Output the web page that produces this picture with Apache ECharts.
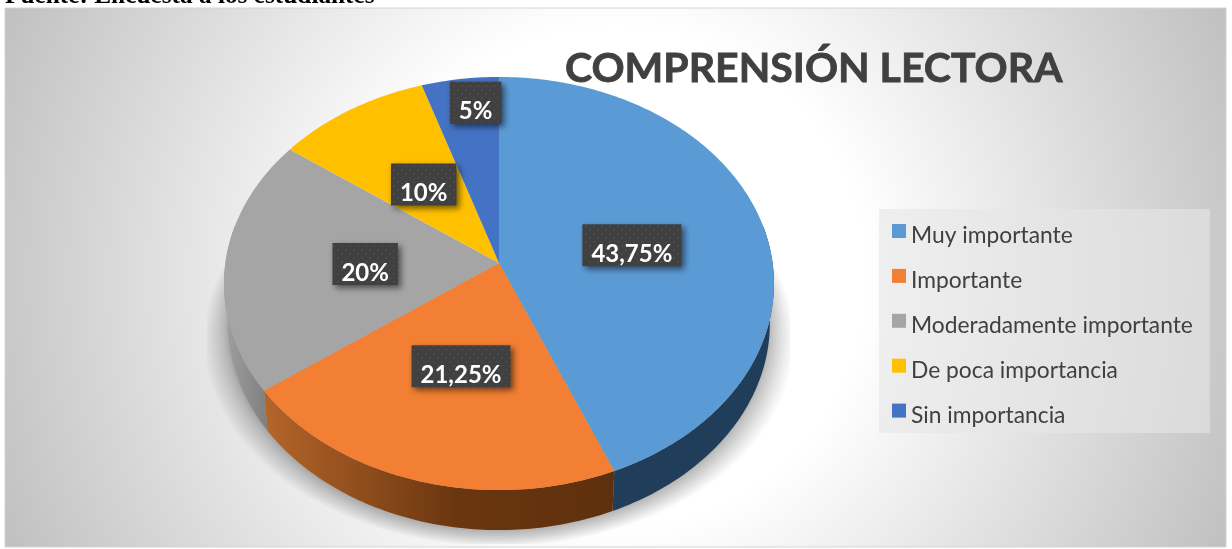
<!DOCTYPE html>
<html>

<head>
    <meta charset="utf-8">
    <title>Comprensión lectora</title>
    <script src="https://cdn.jsdelivr.net/npm/echarts@6/dist/echarts.min.js"></script>
    <style>
        * {
            margin: 0;
            padding: 0;
        }

        body {
            background: #fff;
        }

        #view {
            width: 1232px;
            height: 549px;
        }
    </style>
</head>

<body>
    <div id="view"></div>
    <script>
        // datos
        var categories = ['Muy importante', 'Importante', 'Moderadamente importante', 'De poca importancia', 'Sin importancia'];
        var values = [43.75, 21.25, 20, 10, 5];
        var colors = ['#5b9bd5', '#f27f33', '#a5a5a5', '#ffc000', '#4472c4'];

        // geometria del pastel inclinado (perspectiva)
        var cx = 499, cy = 263, radius = 273.6, depthY = 204.5, persp = -0.0993;
        var wall = 40, wallScale = 0.985;
        // desplazamiento de cada etiqueta respecto a la mitad del sector
        var labelNudge = [[0, 2], [1, 0], [3, 1], [2, 1], [-3, -64]];

        var total = values.reduce(function (a, b) { return a + b; }, 0);
        var starts = [];
        values.reduce(function (acc, v, i) { starts[i] = acc; return acc + v; }, 0);

        function angle(v) {
            return v / total * Math.PI * 2;
        }

        function project(theta, f) {
            var u = f * Math.sin(theta), v = -f * Math.cos(theta);
            var w = 1 + persp * v;
            return [cx + radius * u / w, cy + depthY * v / w];
        }

        function rim(a, b) {
            var pts = [], n = Math.max(2, Math.ceil((b - a) * 60));
            for (var i = 0; i <= n; i++) {
                pts.push(project(a + (b - a) * i / n, 1));
            }
            return pts;
        }

        function lowered(pts) {
            return pts.map(function (p) {
                return [cx + (p[0] - cx) * wallScale, p[1] + wall];
            }).reverse();
        }

        function hGrad(stops) {
            return new echarts.graphic.LinearGradient(0, 0, 1, 0, stops);
        }

        var wallFill = [
            '#203d5a',
            hGrad([{ offset: 0, color: '#b5652a' }, { offset: 0.55, color: '#6a360f' }, { offset: 1, color: '#5f300d' }]),
            hGrad([{ offset: 0, color: '#a0a0a0' }, { offset: 1, color: '#7f7f7f' }]),
            '#997300',
            '#29446f'
        ];

        function sliceItem(i) {
            return function (params, api) {
                var a = angle(starts[i]), b = angle(starts[i] + api.value(0));
                var children = [];
                // pared lateral, solo la parte que mira hacia abajo
                var wa = Math.max(a, Math.PI * 0.44), wb = Math.min(b, Math.PI * 1.56);
                if (wb > wa) {
                    var top = rim(wa, wb);
                    children.push({
                        type: 'polygon',
                        shape: { points: top.concat(lowered(top)) },
                        style: { fill: wallFill[i] }
                    });
                }
                children.push({
                    type: 'polygon',
                    shape: { points: [[cx, cy]].concat(rim(a, b)) },
                    style: { fill: colors[i] }
                });
                return { type: 'group', children: children };
            };
        }

        // sombra debajo del pastel: capas casi transparentes, recortada como en Excel
        var shadowLayers = 14, shadowAlpha = 0.023;
        var shadowBox = { left: 207, right: 790, bottom: 544 };

        function shadowItem() {
            var base = rim(Math.PI * 0.42, Math.PI * 1.58);
            var children = [];
            for (var k = 0; k < shadowLayers; k++) {
                var t = k / (shadowLayers - 1);
                var pts = base.map(function (p) {
                    var x = cx + (p[0] - cx) * (wallScale + 0.085 * Math.pow(t, 1.6));
                    var y = p[1] + wall + 16 * t;
                    return [
                        Math.min(shadowBox.right, Math.max(shadowBox.left, x)),
                        Math.min(shadowBox.bottom, y)
                    ];
                });
                children.push({
                    type: 'polygon',
                    shape: { points: pts },
                    style: { fill: 'rgba(0,0,0,' + shadowAlpha + ')' }
                });
            }
            return { type: 'group', children: children };
        }

        // trama de puntos para las cajas de etiqueta
        var dots = document.createElement('canvas');
        dots.width = 8;
        dots.height = 8;
        var dc = dots.getContext('2d');
        dc.fillStyle = '#404040';
        dc.fillRect(0, 0, 8, 8);
        dc.fillStyle = '#494949';
        dc.fillRect(1, 1, 2, 2);
        dc.fillRect(5, 5, 2, 2);

        var labelFont = 'bold 24px Lato, "Noto Sans", sans-serif';
        var measure = document.createElement('canvas').getContext('2d');
        measure.font = labelFont;

        function labelItem(params, api) {
            var i = params.dataIndex;
            var mid = angle(starts[i] + api.value(0) / 2);
            var p = project(mid, 0.5);
            var x = p[0] + labelNudge[i][0], y = p[1] + labelNudge[i][1];
            var text = String(api.value(0)).replace('.', ',') + '%';
            var w = measure.measureText(text).width + 18, h = 42;
            return {
                type: 'group',
                children: [{
                    type: 'rect',
                    shape: { x: x - w / 2, y: y - h / 2, width: w, height: h },
                    style: {
                        fill: { image: dots, repeat: 'repeat' },
                        shadowBlur: 6,
                        shadowOffsetX: 3,
                        shadowOffsetY: 3,
                        shadowColor: 'rgba(0,0,0,0.55)'
                    }
                }, {
                    type: 'text',
                    x: x,
                    y: y + 9,
                    style: {
                        text: text,
                        font: labelFont,
                        fill: '#fff',
                        align: 'center',
                        verticalAlign: 'middle'
                    }
                }]
            };
        }

        var series = [{
            type: 'custom',
            coordinateSystem: 'none',
            silent: true,
            data: [[0]],
            renderItem: shadowItem
        }];
        categories.forEach(function (name, i) {
            series.push({
                name: name,
                type: 'custom',
                coordinateSystem: 'none',
                itemStyle: { color: colors[i] },
                data: [[values[i]]],
                renderItem: sliceItem(i)
            });
        });
        series.push({
            type: 'custom',
            coordinateSystem: 'none',
            silent: true,
            z: 5,
            data: values.map(function (v) { return [v]; }),
            renderItem: labelItem
        });

        var view = echarts.init(document.getElementById('view'));
        view.setOption({
            animation: false,
            title: {
                text: 'COMPRENSIÓN LECTORA',
                left: 565,
                top: 48,
                padding: 0,
                textStyle: {
                    fontFamily: 'Lato, "Noto Sans", sans-serif',
                    fontSize: 41,
                    fontWeight: 'bold',
                    color: '#404040',
                    textBorderColor: '#404040',
                    textBorderWidth: 0.8
                }
            },
            legend: {
                data: categories,
                orient: 'vertical',
                left: 879,
                top: 209,
                padding: [15, 17, 6, 13],
                icon: 'rect',
                itemWidth: 14,
                itemHeight: 14,
                itemGap: 21.4,
                selectedMode: false,
                backgroundColor: 'rgba(230,230,230,0.6)',
                formatter: '{t|{name}}',
                textStyle: {
                    rich: {
                        t: {
                            fontFamily: 'Lato, "Noto Sans", sans-serif',
                            fontSize: 22.8,
                            lineHeight: 33,
                            verticalAlign: 'bottom',
                            color: '#404040'
                        }
                    }
                }
            },
            graphic: [{
                type: 'rect',
                z: -10,
                silent: true,
                shape: { x: 5, y: 8, width: 1221, height: 539 },
                style: {
                    stroke: '#d4d4d4',
                    lineWidth: 1,
                    fill: new echarts.graphic.RadialGradient(616, 277, 674, [
                        { offset: 0, color: '#ffffff' },
                        { offset: 0.37, color: '#ffffff' },
                        { offset: 1, color: '#bfbfbf' }
                    ], true)
                }
            }, {
                type: 'text',
                x: 5,
                y: 9,
                silent: true,
                style: {
                    text: 'Fuente: Encuesta a los estudiantes',
                    font: 'bold 25.3px "Liberation Serif", serif',
                    fill: '#000',
                    verticalAlign: 'bottom'
                }
            }],
            series: series
        });
    </script>

</body>

</html>
